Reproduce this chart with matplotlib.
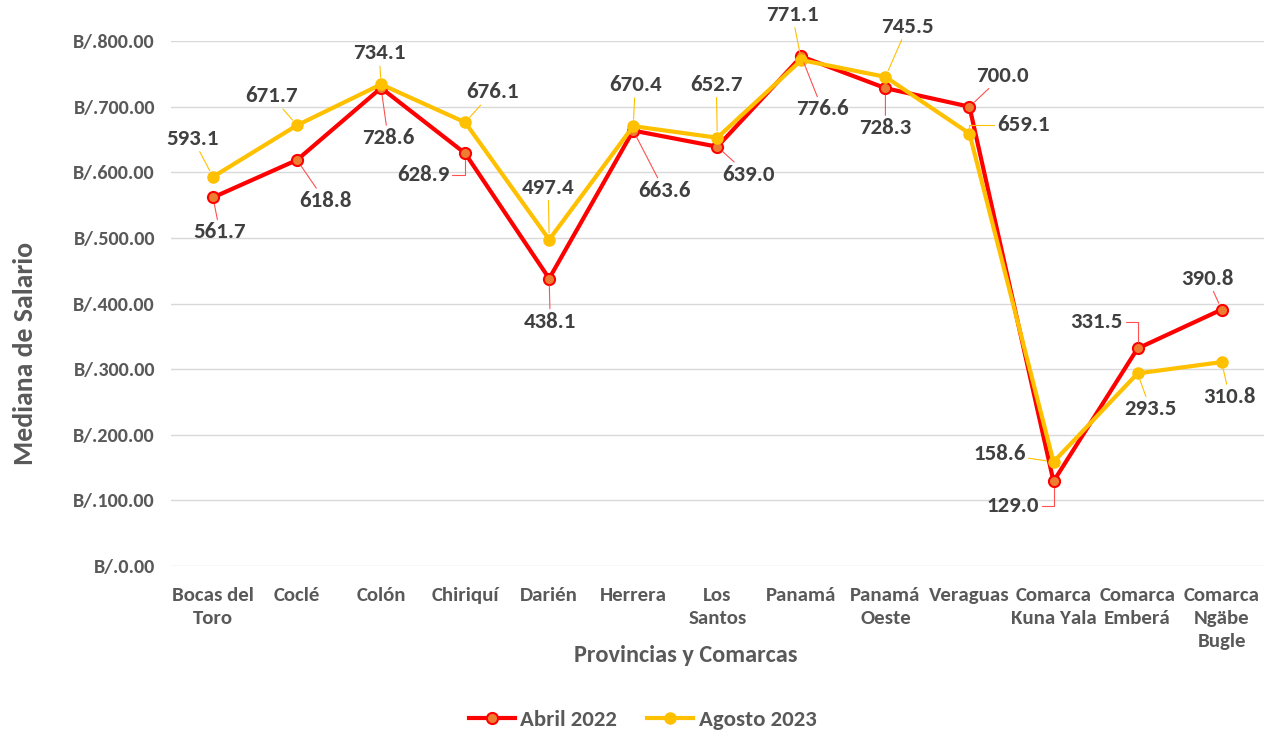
import numpy as np
import matplotlib.pyplot as plt
from matplotlib.ticker import FuncFormatter

plt.rcParams['font.family'] = ['Carlito', 'DejaVu Sans']

# categories and series
categories = ["Bocas del\nToro", "Coclé", "Colón", "Chiriquí", "Darién", "Herrera",
              "Los\nSantos", "Panamá", "Panamá\nOeste", "Veraguas",
              "Comarca\nKuna Yala", "Comarca\nEmberá", "Comarca\nNgäbe\nBugle"]
abril_2022 = [561.7, 618.8, 728.6, 628.9, 438.1, 663.6, 639.0, 776.6, 728.3, 700.0, 129.0, 331.5, 390.8]
agosto_2023 = [593.1, 671.7, 734.1, 676.1, 497.4, 670.4, 652.7, 771.1, 745.5, 659.1, 158.6, 293.5, 310.8]

# label offsets in pixels (dx, dy) from each point
red_offsets = [(7, -35), (28, -41), (7, -50), (-42, -22), (1, -43), (31, -60), (31, -28),
               (21, -53), (0, -40), (33, 31), (-41, -25), (-41, 26), (-14, 31)]
yel_offsets = [(-20, 38), (-25, 29), (-2, 31), (27, 30), (-1, 52), (2, 41), (-1, 53),
               (-9, 45), (22, 50), (54, 9), (-54, 8), (13, -36), (8, -35)]
# labels whose leader line bends at a right angle
red_elbows = {3, 10, 11}
yel_elbows = {9}

RED = '#FF0000'
ORANGE = '#ED7D31'
YELLOW = '#FFC000'
TXT = '#404040'
TICK = '#595959'

fig = plt.figure(figsize=(12.7, 7.34), dpi=100)
ax = fig.add_axes([0.1346, 0.2289, 0.8604, 0.7151])

x = np.arange(len(categories))
ax.plot(x, abril_2022, color=RED, lw=3, marker='o', ms=8, mfc=ORANGE, mec=RED,
        mew=1.5, label='Abril 2022', zorder=3)
ax.plot(x, agosto_2023, color=YELLOW, lw=3, marker='o', ms=8, mfc=YELLOW, mec=YELLOW,
        label='Agosto 2023', zorder=4)

def add_labels(vals, offsets, line_color, elbows):
    for i, (xi, v, (dx, dy)) in enumerate(zip(x, vals, offsets)):
        conn = "angle,angleA=0,angleB=90,rad=0" if i in elbows else "arc3"
        ax.annotate(f"{v:.1f}", xy=(xi, v), xytext=(dx, dy), textcoords='offset pixels',
                    ha='center', va='center', fontsize=16.5, fontweight='bold', color=TXT,
                    arrowprops=dict(arrowstyle='-', color=line_color, lw=0.8,
                                    shrinkA=0, shrinkB=5, connectionstyle=conn), zorder=5)

add_labels(abril_2022, red_offsets, '#FF5050', red_elbows)
add_labels(agosto_2023, yel_offsets, YELLOW, yel_elbows)

ax.set_xlim(-0.5, len(categories) - 0.5)
ax.set_ylim(0, 800)
ax.set_yticks(np.arange(0, 801, 100))
ax.yaxis.set_major_formatter(FuncFormatter(lambda v, p: f"B/.{v:.2f}"))
ax.set_xticks(x)
ax.set_xticklabels(categories, linespacing=1.45)
ax.tick_params(axis='y', length=0, colors=TICK, labelsize=14.5, pad=11.5)
ax.tick_params(axis='x', length=0, colors=TICK, labelsize=15, pad=15)
for lbl in ax.get_xticklabels() + ax.get_yticklabels():
    lbl.set_fontweight('bold')

ax.grid(axis='y', color='#D9D9D9', lw=1)
ax.set_axisbelow(True)
for s in ax.spines.values():
    s.set_visible(False)

ax.set_ylabel('Mediana de Salario', fontsize=20, fontweight='bold', color=TICK)
ax.yaxis.set_label_coords(-0.123, 0.405)
ax.set_xlabel('Provincias y Comarcas', fontsize=17.5, fontweight='bold', color=TICK)
ax.xaxis.set_label_coords(0.471, -0.15)

fig.legend(loc='center', bbox_to_anchor=(0.506, 0.019), ncol=2, frameon=False,
           prop={'size': 16.5, 'weight': 'bold'}, labelcolor=TICK, handlelength=2,
           handletextpad=0.25, columnspacing=1.3)

fig.savefig('out.png', dpi=100)
